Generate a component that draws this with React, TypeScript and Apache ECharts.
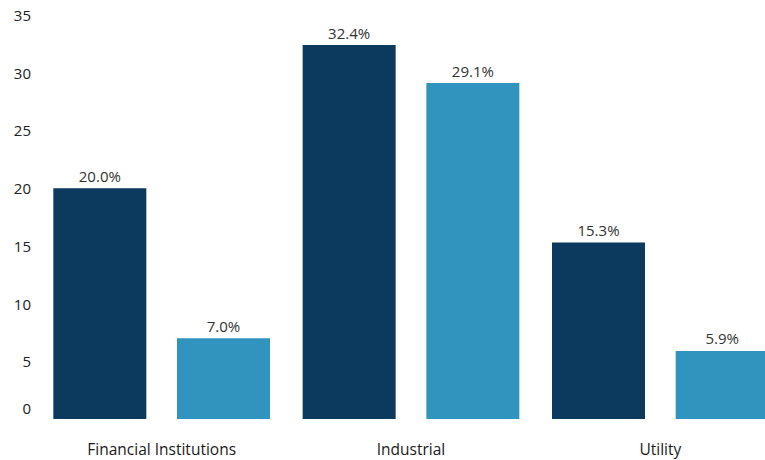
import React, { useEffect, useRef } from "react";
import * as echarts from "echarts";

const categories = ["Financial Institutions", "Industrial", "Utility"];
const seriesA = [20.0, 32.4, 15.3];
const seriesB = [7.0, 29.1, 5.9];
const yTicks = { min: 0, max: 35, interval: 5 };

const FONT = "Open Sans";

export default function App() {
  const ref = useRef<HTMLDivElement>(null);
  useEffect(() => {
    const chart = echarts.init(ref.current!, null, { renderer: "svg" });
    const label = {
      show: true,
      position: "top" as const,
      distance: 5,
      color: "#333333",
      fontSize: 15,
      fontFamily: FONT,
      formatter: (p: any) => Number(p.value).toFixed(1) + "%",
    };
    chart.setOption({
      animation: false,
      backgroundColor: "#ffffff",
      grid: { left: 37, right: 0, top: 15, bottom: 41, containLabel: false },
      xAxis: {
        type: "category",
        data: categories,
        axisLine: { show: false },
        axisTick: { show: false },
        axisLabel: {
          color: "#1a1a1a",
          fontSize: 15.5,
          fontFamily: FONT,
          margin: 22,
        },
      },
      yAxis: {
        type: "value",
        min: yTicks.min,
        max: yTicks.max,
        interval: yTicks.interval,
        splitLine: { show: false },
        axisLine: { show: false },
        axisTick: { show: false },
        axisLabel: {
          color: "#222222",
          fontSize: 15,
          fontFamily: FONT,
          margin: 6,
          formatter: (v: number) => (v === 0 ? "{z|0}" : String(v)),
          rich: { z: { fontSize: 15, fontFamily: FONT, color: "#222222", padding: [0, 0, 22, 0] } },
        },
      },
      series: [
        {
          name: "Series 1",
          type: "bar",
          data: seriesA,
          barWidth: 93,
          barGap: "33%",
          itemStyle: { color: "#0C395E" },
          label,
        },
        {
          name: "Series 2",
          type: "bar",
          data: seriesB,
          barWidth: 93,
          itemStyle: { color: "#3194BE" },
          label,
        },
      ],
    });
    return () => chart.dispose();
  }, []);
  return (
    <div style={{ width: 765, height: 460, position: "absolute", left: 0, top: 0, overflow: "hidden" }}>
      <div ref={ref} style={{ width: 785, height: 460 }} />
    </div>
  );
}
